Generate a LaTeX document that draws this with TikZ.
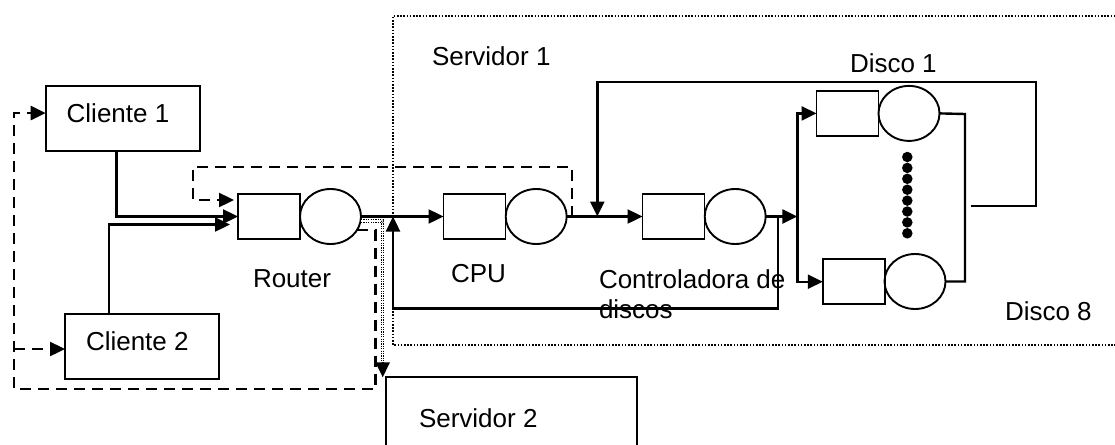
\documentclass[tikz,border=0pt]{standalone}
\usepackage{fontspec}
\setmainfont{Liberation Sans}
\usetikzlibrary{arrows.meta,shapes.geometric,calc}
\begin{document}
\begin{tikzpicture}[x=1pt,y=-1pt,
  every node/.style={font=\fontsize{26}{30}\selectfont},
  box/.style={draw,line width=2.2pt,rectangle,inner sep=0pt,outer sep=0pt},
  queue/.style={draw,line width=1.9pt,rectangle,minimum width=62pt,minimum height=45pt,inner sep=0pt,outer sep=0pt},
  server/.style={draw,line width=1.9pt,ellipse,minimum width=61pt,minimum height=55pt,inner sep=0pt,outer sep=0pt},
  txt/.style={anchor=base west,inner sep=0pt,outer sep=0pt},
  line/.style={line width=2.4pt},
  flow/.style={line width=2.4pt,-{Triangle[length=15pt,width=14pt]}},
  dashflow/.style={line width=2.4pt,dash pattern=on 11pt off 7pt,-{Triangle[length=15pt,width=14pt]}},
  dashline/.style={line width=2.4pt,dash pattern=on 11pt off 7pt},
  border/.style={line width=1.8pt,dash pattern=on 1.6pt off 1.6pt},
  dbl/.style={line width=1pt,double distance=1.4pt,dash pattern=on 1.2pt off 1.2pt},
  dotnode/.style={fill,circle,minimum size=10.5pt,inner sep=0pt}
]
\useasboundingbox (0,0) rectangle (1115,444);
\clip (0,0) rectangle (1115,444);
\fill[white] (0,0) rectangle (1115,444);

% Servidor 1 enclosure
\draw[border] (1125,16) -- (393,16) -- (393,345) -- (1125,345);

% boxes
\node[box,minimum width=154.3pt,minimum height=65.3pt] (cliente1) at (122.85,118.35) {};
\node[box,minimum width=154pt,minimum height=65pt] (cliente2) at (142,346.5) {};
\node[box,minimum width=250.7pt,minimum height=100pt] (srv2) at (511.35,427.3) {};

% queues
\node[queue] (rq) at (269,216.5) {};
\node[server] (rs) at (330.5,216.5) {};
\node[queue] (cq) at (474.5,216.5) {};
\node[server] (cs) at (536.2,216.5) {};
\node[queue] (kq) at (673.5,216.5) {};
\node[server] (ks) at (735.2,216.5) {};
\node[queue] (d1q) at (847.5,113.4) {};
\node[server] (d1s) at (909,113.4) {};
\node[queue] (d8q) at (853.8,281.7) {};
\node[server] (d8s) at (915,281.5) {};
\foreach \k in {0,...,7} \node[dotnode] (dt\k) at (907.3,157+\k*10.9) {};

% texts
\node[txt] (t1) at (66.7,122.3) {Cliente 1};
\node[txt] (t2) at (86,350) {Cliente 2};
\node[txt] (tr) at (253,287) {Router};
\node[txt] (tc) at (451,282) {CPU};
\node[txt] (tk) at (599,288.3) {Controladora de};
\node[txt] (tk2) at (599,318) {discos};
\node[txt] (ts1) at (432,65) {Servidor 1};
\node[txt] (ts2) at (419,427.3) {Servidor 2};
\node[txt] (td1) at (850,72) {Disco 1};
\node[txt] (td8) at (1005,320) {Disco 8};

% coordinates
\coordinate (j1) at (393,216.5);
\coordinate (j2) at (597.3,216.5);
\coordinate (split) at (797.3,216.5);
\coordinate (m1) at (965,114);
\coordinate (m8) at (965,281.5);
\coordinate (fbstart) at (970.7,205.7);
\coordinate (s0) at (357,230);
\coordinate (br) at (14,349);

% clients to router
\draw[flow] ([xshift=-6.2pt]cliente1.south) |- (rq.west);
\draw[flow] ([xshift=-33pt]cliente2.north) |- ([xshift=-8pt,yshift=-8pt]rq.west);
% feedback (dashed) from after CPU back to router
\draw[dashflow] ([xshift=5.5pt]cs.east) |- (193,167) |- ([xshift=-4pt,yshift=16.5pt]rq.west);
% main flow
\draw[flow] (rs.east) -- (cq.west);
\draw[flow] (cs.east) -- (kq.west);
\draw[flow] (ks.east) -- (split);
\draw[flow] (split) |- (d1q.west);
\draw[flow] (split) |- (d8q.west);
% controller feedback to CPU
\draw[flow] ([xshift=12pt]ks.east) |- (393,308.3) -- (j1);
% disk outputs
\draw[line] (d1s.east) -- (m1) -- (m8) -- (d8s.east);
\draw[flow] (fbstart) -| (1035.7,81.7) -| (j2);
% router to clients (dashed)
\draw[dashflow] (s0) -- (375.5,230) -- (375.5,389) -- (14,389) |- ([yshift=5.3pt]cliente1.west);
\draw[dashflow] (br) -- ([yshift=-2.5pt]cliente2.west);
% router to Servidor 2 (dotted)
\draw[dbl] ([yshift=-4.5pt]rs.east) -| (382.7,366);
\draw[flow] (382.7,362) -- ([xshift=-3.3pt]srv2.north west);
\end{tikzpicture}
\end{document}
